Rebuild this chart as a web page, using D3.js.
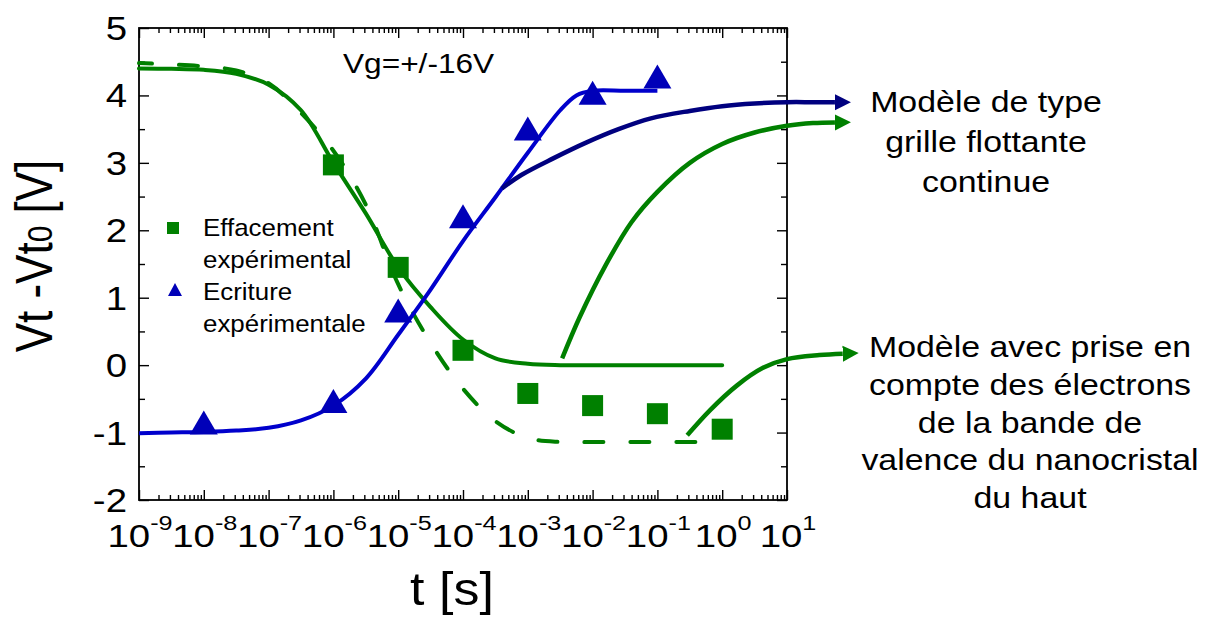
<!DOCTYPE html>
<html><head><meta charset="utf-8">
<script src="https://cdn.jsdelivr.net/npm/d3@7"></script>
<style>
html,body{margin:0;padding:0;background:#fff;}
svg{display:block;}
text{font-family:"Liberation Sans",Arial,Helvetica,sans-serif;fill:#000;}
</style></head><body>
<svg id="chart" width="1211" height="617"></svg>
<script>
// ---------- data ----------
const xTickExponents = [-9,-8,-7,-6,-5,-4,-3,-2,-1,0,1];
const yTickValues = [-2,-1,0,1,2,3,4,5];
const yTickLabels = ["-2","-1","0","1","2","3","4","5"];
const yMinorValues = [-1.5,-0.5,0.5,1.5,2.5,3.5,4.5];

// experimental points
const effacementT = [1e-6,1e-5,1e-4,1e-3,1e-2,1e-1,1e0];
const effacementV = [2.97,1.45,0.22,-0.42,-0.60,-0.72,-0.95];
const ecritureT = [1e-8,1e-6,1e-5,1e-4,1e-3,1e-2,1e-1];
const ecritureV = [-0.85,-0.53,0.81,2.21,3.51,4.04,4.28];

// model curves (log10 t, V)
const effModelLogT = [-9,-8.5,-8,-7.5,-7,-6.5,-6,-5.5,-5,-4.5,-4,-3.5,-3,-2.5,-2,-1.5,-1,-0.5,0];
const effModelV    = [4.40,4.395,4.38,4.32,4.16,3.78,3.0,2.25,1.45,0.86,0.38,0.1,0.02,0,0,0,0,0,0];

const effDashLogT = [-9,-8.5,-8,-7.5,-7,-6.5,-6,-5.5,-5,-4.5,-4,-3.5,-3,-2.5,-2,-1.5,-1,-0.5,0];
const effDashV    = [4.48,4.46,4.43,4.37,4.18,3.74,3.18,2.38,1.2,0.33,-0.35,-0.83,-1.08,-1.14,-1.14,-1.14,-1.14,-1.14,-1.14];

const writeModelLogT = [-9,-8.5,-8,-7.5,-7,-6.5,-6,-5.5,-5,-4.5,-4,-3.5,-3,-2.5,-2.25,-2,-1.5,-1];
const writeModelV    = [-1.01,-1.0,-0.99,-0.97,-0.93,-0.82,-0.6,-0.2,0.45,1.12,1.84,2.49,3.15,3.78,4.0,4.07,4.07,4.07];

const fgWriteLogT = [-3.4,-3.1,-2.6,-2.1,-1.6,-1.1,-0.5,0,0.5,1.0,1.4,1.74];
const fgWriteV    = [2.62,2.82,3.07,3.3,3.5,3.66,3.77,3.84,3.88,3.9,3.9,3.9];

const fgEraseLogT = [-2.47,-2.2,-1.8,-1.4,-1.0,-0.5,0,0.5,1.0,1.4,1.74];
const fgEraseV    = [0.1,0.71,1.48,2.12,2.57,3.0,3.28,3.45,3.55,3.59,3.6];

const valenceLogT = [-0.54,-0.19,0.23,0.63,1.0,1.5,1.86];
const valenceV    = [-1.04,-0.67,-0.3,-0.04,0.09,0.15,0.17];

const legendLabels = [["Effacement","expérimental"],["Ecriture","expérimentale"]];
const annotation1 = ["Modèle de type","grille flottante","continue"];
const annotation2 = ["Modèle avec prise en","compte des électrons","de la bande de","valence du nanocristal","du haut"];
const titleText = "Vg=+/-16V";

// ---------- styles ----------
const GREEN = "#008000", BLUE = "#0000cc", TRI = "#0000b8", NAVY = "#00007f";

const svg = d3.select("#chart");
const L = 139, R = 787, T = 28, B = 500;
const x = d3.scaleLog().domain([1e-9, 1e1]).range([L, R]);
const y = d3.scaleLinear().domain([-2, 5]).range([B, T]);

function txt(g, str, px, py, size, sx, anchor){
  return g.append("text")
    .attr("transform", `translate(${px},${py}) scale(${sx},1)`)
    .attr("font-size", size)
    .attr("text-anchor", anchor || "start")
    .text(str);
}

// markers (arrowheads)
const defs = svg.append("defs");
[["arrNavy",NAVY],["arrGreen",GREEN]].forEach(([id,c])=>{
  defs.append("marker").attr("id",id).attr("markerUnits","userSpaceOnUse")
    .attr("viewBox","0 -9 17 18").attr("refX",0).attr("refY",0)
    .attr("markerWidth",17).attr("markerHeight",18).attr("orient","auto")
    .append("path").attr("d","M0,-8L16,0L0,8Z").attr("fill",c);
});

// ---------- axes ----------
const majorsX = xTickExponents.map(e => Math.pow(10, e));
const minorsX = [];
for (let e = -9; e < 1; e++) for (let k = 2; k <= 9; k++) minorsX.push(k * Math.pow(10, e));

function axisDraw(axis, tf){
  const g = svg.append("g").attr("transform", tf).call(axis);
  g.select(".domain").remove();
  g.selectAll("line").attr("stroke","#000").attr("stroke-width",1.4);
  g.selectAll("text").remove();
  return g;
}
axisDraw(d3.axisBottom(x).tickValues(majorsX).tickSize(-10).tickSizeOuter(0), `translate(0,${B})`);
axisDraw(d3.axisBottom(x).tickValues(minorsX).tickSize(-5).tickSizeOuter(0), `translate(0,${B})`);
axisDraw(d3.axisTop(x).tickValues(majorsX).tickSize(-10).tickSizeOuter(0), `translate(0,${T})`);
axisDraw(d3.axisTop(x).tickValues(minorsX).tickSize(-5).tickSizeOuter(0), `translate(0,${T})`);
axisDraw(d3.axisLeft(y).tickValues(yTickValues).tickSize(-10).tickSizeOuter(0), `translate(${L},0)`);
axisDraw(d3.axisLeft(y).tickValues(yMinorValues).tickSize(-6).tickSizeOuter(0), `translate(${L},0)`);
axisDraw(d3.axisRight(y).tickValues(yTickValues).tickSize(-10).tickSizeOuter(0), `translate(${R},0)`);
axisDraw(d3.axisRight(y).tickValues(yMinorValues).tickSize(-6).tickSizeOuter(0), `translate(${R},0)`);

svg.append("rect").attr("x",L).attr("y",T).attr("width",R-L).attr("height",B-T)
  .attr("fill","none").attr("stroke","#000").attr("stroke-width",1.8);

// tick labels
const labG = svg.append("g");
yTickValues.forEach((v,i)=>{
  txt(labG, yTickLabels[i], 127, y(v)+12, 34, 1.13, "end");
});
xTickExponents.forEach(e=>{
  const t = labG.append("text")
    .attr("transform", `translate(${x(Math.pow(10,e))+1},547) scale(1.2,1)`)
    .attr("text-anchor","middle").attr("font-size",32);
  t.append("tspan").text("10");
  t.append("tspan").attr("font-size",21).attr("dy",-17).text(String(e));
});

// axis titles
txt(svg, "t [s]", 452, 605, 46, 1.13, "middle");
const yl = svg.append("text")
  .attr("transform","translate(52,256) scale(1.17,1) rotate(-90)")
  .attr("text-anchor","middle").attr("font-size",44);
yl.append("tspan").text("Vt -Vt");
yl.append("tspan").attr("font-size",30).text("0");
yl.append("tspan").text(" [V]");

// ---------- curves ----------
const line = d3.line().x(d=>x(d.t)).y(d=>y(d.v)).curve(d3.curveCatmullRom.alpha(0.5));
const mk = (lt, vv) => lt.map((l,i)=>({t:Math.pow(10,l), v:vv[i]}));

svg.append("path").datum(mk(effDashLogT, effDashV)).attr("d", line)
  .attr("fill","none").attr("stroke",GREEN).attr("stroke-width",4)
  .attr("stroke-dasharray","19,27").attr("stroke-dashoffset",6).attr("stroke-linecap","round");
svg.append("path").datum(mk(effModelLogT, effModelV)).attr("d", line)
  .attr("fill","none").attr("stroke",GREEN).attr("stroke-width",4).attr("stroke-linecap","round");
svg.append("path").datum(mk(writeModelLogT, writeModelV)).attr("d", line)
  .attr("fill","none").attr("stroke",BLUE).attr("stroke-width",4);
svg.append("path").datum(mk(fgWriteLogT, fgWriteV)).attr("d", line)
  .attr("fill","none").attr("stroke",NAVY).attr("stroke-width",4.5).attr("marker-end","url(#arrNavy)");
svg.append("path").datum(mk(fgEraseLogT, fgEraseV)).attr("d", line)
  .attr("fill","none").attr("stroke",GREEN).attr("stroke-width",4.5).attr("marker-end","url(#arrGreen)");
svg.append("path").datum(mk(valenceLogT, valenceV)).attr("d", line)
  .attr("fill","none").attr("stroke",GREEN).attr("stroke-width",4.5).attr("marker-end","url(#arrGreen)");

// ---------- experimental markers ----------
const SQ = 21;
svg.append("g").selectAll("rect").data(effacementT.map((t,i)=>({t, v:effacementV[i]})))
  .join("rect").attr("x",d=>x(d.t)-SQ/2).attr("y",d=>y(d.v)-SQ/2)
  .attr("width",SQ).attr("height",SQ).attr("fill",GREEN);
const TW = 28, TH = 24;
svg.append("g").selectAll("path").data(ecritureT.map((t,i)=>({t, v:ecritureV[i]})))
  .join("path").attr("d",d=>{
    const cx = x(d.t), cy = y(d.v);
    return `M${cx},${cy-TH/2}L${cx+TW/2},${cy+TH/2}L${cx-TW/2},${cy+TH/2}Z`;
  }).attr("fill",TRI);

// ---------- legend ----------
const lg = svg.append("g");
lg.append("rect").attr("x",167).attr("y",222).attr("width",12).attr("height",12).attr("fill",GREEN);
lg.append("path").attr("d","M175,283L182,296L168,296Z").attr("fill",TRI);
txt(lg, legendLabels[0][0], 203, 236, 24, 1.08);
txt(lg, legendLabels[0][1], 203, 268, 24, 1.08);
txt(lg, legendLabels[1][0], 203, 300, 24, 1.08);
txt(lg, legendLabels[1][1], 203, 332, 24, 1.08);

// ---------- title & annotations ----------
txt(svg, titleText, 343, 73, 28, 1.13);
annotation1.forEach((s,i)=> txt(svg, s, 986, 112 + i*40, 30, 1.13, "middle"));
annotation2.forEach((s,i)=> txt(svg, s, 1030, 357 + i*37.8, 30, 1.13, "middle"));
</script>
</body></html>
